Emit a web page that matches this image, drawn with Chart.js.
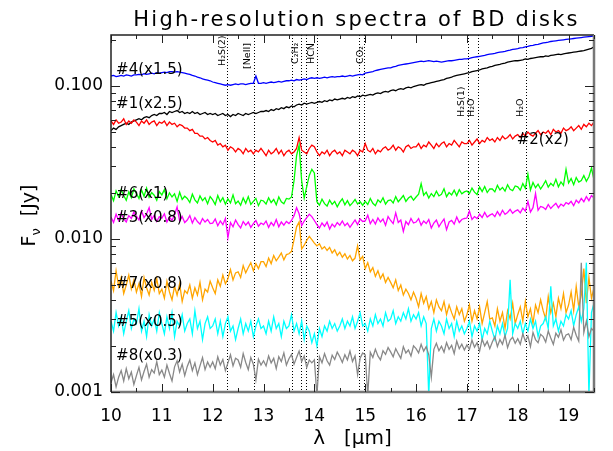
<!DOCTYPE html>
<html><head><meta charset="utf-8">
<script src="https://cdn.jsdelivr.net/npm/chart.js@4.4.1/dist/chart.umd.min.js"></script>
<style>html,body{margin:0;padding:0;background:#fff;overflow:hidden}#wrap{width:613px;height:451px;}</style>
</head><body><div id="wrap"><canvas id="c" width="613" height="451"></canvas></div>
<script>
// Wavelength grid (micron)
const wavelength = [10,10.05,10.1,10.15,10.2,10.25,10.3,10.35,10.4,10.45,10.5,10.55,10.6,10.65,10.7,10.75,10.8,10.85,10.9,10.95,
11,11.05,11.1,11.15,11.2,11.25,11.3,11.35,11.4,11.45,11.5,11.55,11.6,11.65,11.7,11.75,11.8,11.85,11.9,11.95,
12,12.05,12.1,12.15,12.2,12.25,12.3,12.35,12.4,12.45,12.5,12.55,12.6,12.65,12.7,12.75,12.8,12.85,12.9,12.95,
13,13.05,13.1,13.15,13.2,13.25,13.3,13.35,13.4,13.45,13.5,13.55,13.6,13.65,13.7,13.75,13.8,13.85,13.9,13.95,
14,14.05,14.1,14.15,14.2,14.25,14.3,14.35,14.4,14.45,14.5,14.55,14.6,14.65,14.7,14.75,14.8,14.85,14.9,14.95,
15,15.05,15.1,15.15,15.2,15.25,15.3,15.35,15.4,15.45,15.5,15.55,15.6,15.65,15.7,15.75,15.8,15.85,15.9,15.95,
16,16.05,16.1,16.15,16.2,16.25,16.3,16.35,16.4,16.45,16.5,16.55,16.6,16.65,16.7,16.75,16.8,16.85,16.9,16.95,
17,17.05,17.1,17.15,17.2,17.25,17.3,17.35,17.4,17.45,17.5,17.55,17.6,17.65,17.7,17.75,17.8,17.85,17.9,17.95,
18,18.05,18.1,18.15,18.2,18.25,18.3,18.35,18.4,18.45,18.5,18.55,18.6,18.65,18.7,18.75,18.8,18.85,18.9,18.95,
19,19.05,19.1,19.15,19.2,19.25,19.3,19.35,19.4,19.45,19.5];

// Scaled fluxes in mJy
const s4_mJy = [116,117,115,116,117,116,118,117,116,118,118,119,118,120,119,120,121,120,122,121,
122,123,122,124,124,123,124,123,122,121,120,119,117,116,114,113,111,110,109,108,
106,105,104,103,102,101,102,101,102,103,102,103,103,102,103,104,104,116,104,104,
105,104,105,106,105,106,107,106,107,108,108,109,108,110,109,110,111,110,112,113,
112,113,112,113,114,113,114,115,114,115,115,116,115,116,117,116,117,118,119,118,
121,122,123,124,126,127,128,129,130,131,131,133,134,136,137,138,139,140,141,142,
143,144,145,144,145,146,145,144,145,144,143,144,145,146,146,147,148,149,149,150,
150,151,153,154,155,156,157,158,160,161,162,163,165,166,167,168,170,171,173,174,
175,177,178,180,181,183,184,186,187,189,191,192,193,195,196,197,198,199,200,201,
202,203,204,205,206,207,208,209,210,211,212];
const s1_mJy = [51,53,52,54,55,56,57,56,58,59,60,61,60,62,63,62,64,65,64,66,
66,67,65,68,67,68,69,67,68,66,67,66,68,66,67,65,66,67,65,66,
65,66,64,65,66,64,65,63,65,64,66,65,64,66,65,66,67,66,67,68,
68,69,68,70,69,71,70,72,71,73,72,74,73,75,76,75,77,76,77,78,
77,78,79,78,80,79,81,80,82,81,82,83,82,84,83,85,84,86,85,87,
86,87,88,87,89,90,89,91,92,91,93,94,93,95,96,95,97,98,97,99,
100,101,102,101,103,104,105,106,107,108,109,110,112,113,114,116,117,118,119,120,
121,122,124,125,126,127,129,130,131,133,134,136,137,138,140,141,143,144,145,146,
146,147,148,150,149,151,152,153,154,155,155,157,156,158,159,160,161,160,162,163,
164,165,166,167,168,169,170,172,174,176,180];
const s2_mJy = [59,56,60,57,58,61,56,59,57,60,58,55,59,57,60,56,58,59,55,58,
57,59,55,58,56,57,54,56,55,53,53,51,52,49,49,47,47,45,46,44,
43,44,41,42,40,41,38,40,39,37,39,38,36,39,37,38,36,38,37,39,
37,35,38,36,37,39,36,38,35,37,38,36,37,39,46,38,37,36,39,41,
40,37,35,37,36,38,35,37,38,36,37,35,38,37,36,38,37,35,38,37,
42,38,37,39,36,38,37,39,40,38,39,41,38,40,39,37,40,41,39,40,
40,42,39,41,40,43,41,39,42,40,42,43,40,42,41,44,42,40,43,42,
42,44,41,43,45,42,44,43,46,44,45,43,46,44,47,45,46,48,45,47,
48,46,49,47,50,48,47,49,51,48,50,49,51,48,52,50,51,49,53,51,
52,54,51,53,55,52,56,54,57,55,58];
const s6_mJy = [19.5,17.8,20.6,18.9,21.0,19.2,17.9,20.3,18.6,21.2,19.8,18.4,20.9,19.0,21.5,18.7,20.1,19.3,17.9,20.4,
19.4,21.0,18.3,20.0,18.8,19.7,17.6,20.2,18.1,19.0,18.4,17.3,19.6,18.0,17.2,19.1,17.8,18.6,17.0,18.9,
18.0,16.8,19.2,17.5,18.6,16.9,18.3,17.2,19.4,17.0,17.7,16.6,18.5,17.1,18.9,16.8,17.6,18.4,16.5,17.9,
17.7,16.9,18.6,17.3,18.1,16.7,18.8,17.5,17.0,18.4,18.2,18.8,24,35,41,24,18.5,22,26,28.5,
27,17.5,16.6,18.2,17.0,16.4,17.9,16.8,17.6,16.2,17.4,18.3,16.7,17.8,16.5,17.2,18.1,16.9,17.5,16.6,
17.6,16.8,18.4,17.1,16.5,18.0,17.3,18.6,16.9,17.8,18.0,17.2,18.9,17.5,18.3,19.2,17.6,18.5,19.0,17.9,
18.8,19.6,23.0,19.3,20.2,18.5,19.8,18.9,20.5,19.1,19.6,21.3,18.9,20.1,19.4,20.8,19.2,21.0,19.7,20.3,
20.6,19.8,21.5,20.2,19.5,21.8,20.4,22.0,20.1,21.2,21.2,20.3,22.4,20.9,21.7,20.5,22.6,21.1,20.7,22.2,
21.9,20.8,23.0,21.4,26.5,20.9,23.4,21.6,22.8,21.2,22.5,24.0,21.8,23.1,22.2,24.5,21.9,23.6,22.4,28.5,
23.2,24.8,22.6,25.2,23.5,24.1,26.0,23.8,25.5,29.0,24.3];
const s3_mJy = [13.9,12.8,14.5,13.2,14.8,13.5,12.9,14.2,13.6,15.0,14.1,13.3,15.2,13.8,14.6,16.0,13.4,14.3,13.0,14.0,
13.7,14.6,12.9,13.9,13.2,14.4,16.2,13.1,14.0,12.8,13.3,14.2,12.7,13.8,13.0,12.5,13.6,12.9,13.4,12.6,
12.7,13.5,12.2,13.1,12.4,13.6,10.2,12.8,12.0,13.3,12.4,11.8,13.0,12.3,12.9,11.9,12.6,13.2,12.1,12.7,
12.4,13.1,11.9,12.8,12.2,13.4,12.0,12.9,12.3,13.0,12.6,13.2,14.2,16.0,14.6,12.2,13.1,13.8,14.5,14.0,
13.2,12.4,11.8,12.7,12.1,12.9,11.6,12.5,12.0,12.8,12.3,13.1,12.2,12.7,11.9,12.6,13.3,12.4,13.5,13.0,
13.1,14.3,12.6,13.4,12.5,13.7,12.9,13.5,12.3,14.0,13.2,12.6,14.8,12.8,13.3,11.2,13.0,12.4,13.6,12.7,
12.9,13.6,12.3,13.1,12.6,13.4,11.8,12.7,13.3,12.0,12.8,13.5,11.5,12.9,13.2,12.5,13.9,12.8,13.4,13.6,
13.7,15.2,13.4,14.0,13.6,14.5,13.8,14.9,13.9,14.3,14.6,14.0,15.1,14.2,15.4,14.5,14.9,15.6,14.7,15.2,
15.5,14.8,15.9,15.2,17.6,15.0,16.0,19.8,15.4,16.3,16.1,15.6,16.8,15.8,16.5,17.1,16.0,16.9,16.4,17.3,
16.9,17.6,16.5,17.9,17.2,18.4,17.5,18.9,17.8,19.2,18.5];
const s7_mJy = [5.3,4.6,6.2,4.9,5.6,4.4,5.0,5.8,4.7,5.4,4.5,5.1,4.2,5.6,4.8,4.3,5.2,4.6,5.5,4.4,
4.7,4.1,5.3,4.5,4.0,4.9,4.3,5.1,3.9,4.6,4.4,5.0,4.1,4.8,4.3,5.2,4.0,4.7,4.5,5.3,
4.8,4.4,5.4,4.9,5.8,5.1,5.5,6.3,5.4,6.0,6.1,5.6,6.7,6.0,6.5,7.0,6.2,6.9,6.4,7.1,
7.1,6.6,7.5,6.9,7.8,7.2,7.6,8.1,7.3,7.9,8.0,8.3,9.9,12.0,12.9,8.6,9.1,9.8,10.4,9.9,
9.4,9.0,9.3,8.6,8.9,8.4,8.8,8.1,8.5,7.8,8.2,7.6,8.0,7.4,7.8,7.2,7.5,9.0,7.3,7.7,
6.4,7.0,6.1,6.5,5.7,6.2,5.5,5.9,5.2,5.6,5.2,4.8,5.4,4.6,5.0,4.3,4.7,4.4,4.0,4.5,
4.1,3.6,4.4,3.8,4.2,3.5,3.9,3.3,4.0,3.6,3.4,3.9,3.2,3.7,3.3,3.0,3.6,3.2,3.5,2.9,
3.2,3.7,2.9,3.4,3.0,3.6,2.8,3.3,3.9,3.0,3.05,2.7,3.5,2.9,3.3,2.6,3.4,3.0,3.8,2.8,
3.2,3.6,2.9,3.9,3.1,3.5,2.8,3.7,3.3,4.0,3.4,3.0,4.2,3.3,3.8,3.1,4.1,3.5,4.4,3.3,
3.7,4.5,3.4,4.9,3.6,4.3,6.4,3.8,5.6,4.1,4.8];
const s5_mJy = [2.9,2.5,3.3,2.7,3.1,2.4,2.9,3.4,2.6,3.0,2.8,3.5,2.5,2.9,2.3,3.2,2.7,3.0,2.5,3.3,
2.8,2.4,3.1,2.6,3.3,2.3,2.9,2.7,3.2,2.5,2.8,3.0,2.4,3.4,2.6,2.9,2.2,2.8,3.1,2.6,
2.7,3.0,2.4,2.9,2.3,2.8,3.1,2.5,2.7,2.2,2.6,3.0,2.4,2.8,2.5,2.9,2.3,2.7,3.0,2.6,
2.7,2.4,2.9,2.5,3.1,2.6,2.8,2.3,2.9,2.6,2.7,3.2,2.5,2.8,2.4,2.9,2.2,2.7,2.5,2.1,
2.4,2.0,2.6,2.3,2.7,2.5,2.9,2.6,2.8,2.5,2.7,3.0,2.6,2.9,2.7,3.1,2.6,2.9,3.3,2.7,
2.8,2.5,3.0,2.7,3.2,2.8,3.0,2.7,3.3,2.9,3.0,3.4,2.8,3.1,2.9,3.3,3.0,3.5,2.9,3.2,
3.0,3.3,2.7,3.1,2.8,0.95,2.6,3.0,2.5,2.9,2.7,2.4,3.0,2.6,2.8,2.3,2.9,2.5,2.7,2.4,
2.6,2.9,2.3,2.7,2.5,2.8,2.2,2.6,2.4,2.9,2.5,2.2,2.7,2.4,2.8,2.3,2.6,5.4,2.4,2.8,
2.6,2.9,2.4,2.8,2.5,3.0,2.6,2.9,2.3,2.7,2.8,3.1,2.6,4.9,2.7,3.0,2.5,2.9,2.7,3.2,
3.0,3.4,2.7,3.2,3.6,2.9,3.5,7.0,0.95,3.3,3.8];
const s8_mJy = [1.15,1.30,1.08,1.25,1.38,1.18,1.42,1.22,1.35,1.12,1.28,1.45,1.20,1.36,1.52,1.25,1.40,1.33,1.58,1.30,
1.39,1.25,1.50,1.32,1.18,1.46,1.60,1.35,1.52,1.28,1.47,1.62,1.38,1.55,1.30,1.48,1.68,1.40,1.57,1.45,
1.57,1.42,1.70,1.50,1.63,1.38,1.55,1.75,1.48,1.66,1.62,1.45,1.78,1.56,1.40,1.68,1.52,1.20,1.64,1.50,
1.60,1.48,1.72,1.55,1.66,1.42,1.70,1.58,1.80,1.50,1.65,1.76,1.52,1.68,1.85,1.58,1.72,1.45,1.62,1.55,
1.62,0.95,1.70,1.55,1.78,1.60,1.50,1.74,1.63,1.82,1.70,1.56,1.75,1.62,1.85,1.58,1.72,1.30,1.66,1.80,
1.75,0.95,1.82,1.68,1.90,1.72,1.62,1.86,1.76,1.95,1.83,1.70,1.92,1.78,1.66,1.98,1.80,1.88,1.72,2.00,
1.92,1.80,2.05,1.85,1.98,1.75,1.25,1.90,2.08,1.86,1.99,1.82,2.10,1.90,2.02,1.78,2.15,1.92,2.05,1.88,
2.03,1.90,2.18,1.96,2.10,1.85,2.22,2.00,2.14,1.92,2.12,2.30,1.98,2.20,2.05,2.35,1.95,2.18,2.28,2.08,
2.23,2.05,2.40,2.15,2.32,1.98,2.45,2.20,2.10,2.38,2.30,2.12,2.50,2.25,2.05,2.42,2.28,2.55,2.18,2.36,
2.40,2.20,2.65,2.35,2.15,7.00,2.45,2.90,2.30,2.60,2.50];

const seriesNames = ['#4(x1.5)','#1(x2.5)','#2(x2)','#6(x1)','#3(x0.8)','#7(x0.8)','#5(x0.5)','#8(x0.3)'];
const seriesValues = [s4_mJy, s1_mJy, s2_mJy, s6_mJy, s3_mJy, s7_mJy, s5_mJy, s8_mJy];

// Axis ticks
const xTickValues = [10,11,12,13,14,15,16,17,18,19];
const yTickValues = [0.001,0.01,0.1];
const yTickLabels = ['0.001','0.010','0.100'];

// Texts
const chartTitle = 'High-resolution spectra of BD disks';
const xTitle = '\u03bb   [\u03bcm]';

// Spectral features
const featureLines = [12.28,12.81,13.56,13.74,13.84,14.05,14.88,14.98,17.03,17.22,18.16];
const featureNames = ['H\u2082S(2)','[NeII]','C\u2082H\u2082','HCN','CO\u2082','H\u2082S(1)','H\u2082O','H\u2082O'];
const featureNameAt = [12.28,12.81,13.74,14.05,14.98,17.03,17.22,18.16];

// ---- styling / layout (not data) ----
const FONT = "'DejaVu Sans', 'Liberation Sans', sans-serif";
const colors = ['#0000ff','#000000','#ff0000','#00ff00','#ff00ff','#ffa500','#00ffff','#888888'];
const labelAnchors = [ // [x in micron, y in Jy]
  [10.1,0.1272],[10.1,0.0763],[17.98,0.0444],[10.1,0.0197],[10.1,0.0137],[10.1,0.00508],[10.1,0.00287],[10.1,0.00172]];
const featureOffsets = [[-2,66],[-3.5,69],[-3,64],[-2.5,64],[-1,64],[-4,117],[-4,117],[-2.5,117]];

const datasets = seriesValues.map((vals, k) => ({
  label: seriesNames[k],
  data: wavelength.map((w, i) => ({x: w, y: vals[i] / 1000})),
  borderColor: colors[k],
  borderWidth: 1.3,
  pointRadius: 0,
  tension: 0,
  fill: false,
  order: 8 - k
}));

const marks = {
  id: 'marks',
  beforeDatasetsDraw(chart) {
    const {ctx, chartArea: a, scales: {x}} = chart;
    ctx.save();
    ctx.strokeStyle = '#000'; ctx.lineWidth = 1; ctx.setLineDash([1, 2]);
    featureLines.forEach(v => {
      const px = Math.round(x.getPixelForValue(v)) + 0.5;
      ctx.beginPath(); ctx.moveTo(px, a.top); ctx.lineTo(px, a.bottom); ctx.stroke();
    });
    ctx.restore();
  },
  afterDraw(chart) {
    const {ctx, chartArea: a, scales: {x, y}} = chart;
    ctx.save();
    // frame
    ctx.lineWidth = 1.5; ctx.strokeStyle = '#222';
    ctx.beginPath(); ctx.moveTo(a.left, a.bottom); ctx.lineTo(a.left, a.top); ctx.lineTo(a.right, a.top); ctx.stroke();
    ctx.lineWidth = 2.5; ctx.strokeStyle = '#777';
    ctx.beginPath(); ctx.moveTo(a.left, a.bottom); ctx.lineTo(a.right, a.bottom); ctx.lineTo(a.right, a.top); ctx.stroke();
    // x tick marks (inside)
    ctx.lineWidth = 1; ctx.strokeStyle = '#222';
    for (let v = 10; v <= 19.5001; v += 0.5) {
      const px = Math.round(x.getPixelForValue(v)) + 0.5;
      const len = Math.abs(v - Math.round(v)) < 1e-6 ? 8 : 4;
      ctx.beginPath(); ctx.moveTo(px, a.bottom); ctx.lineTo(px, a.bottom - len); ctx.stroke();
      ctx.beginPath(); ctx.moveTo(px, a.top); ctx.lineTo(px, a.top + len); ctx.stroke();
    }
    // y tick marks
    for (let e = -3; e <= -1; e++) {
      for (let m = 1; m <= 9; m++) {
        const v = m * Math.pow(10, e);
        if (v > y.max) continue;
        const py = Math.round(y.getPixelForValue(v)) + 0.5;
        const len = m === 1 ? 9 : 5;
        ctx.beginPath(); ctx.moveTo(a.left, py); ctx.lineTo(a.left + len, py); ctx.stroke();
        ctx.beginPath(); ctx.moveTo(a.right, py); ctx.lineTo(a.right - len, py); ctx.stroke();
      }
    }
    ctx.fillStyle = '#000';
    // title
    ctx.font = '21px ' + FONT; ctx.textAlign = 'center'; ctx.textBaseline = 'alphabetic';
    ctx.letterSpacing = '2.2px';
    ctx.fillText(chartTitle, 356.5, 26);
    ctx.letterSpacing = '0px';
    // feature labels (rotated)
    ctx.font = '9.5px ' + FONT; ctx.textAlign = 'left';
    featureNames.forEach((t, i) => {
      const px = x.getPixelForValue(featureNameAt[i]) + featureOffsets[i][0];
      ctx.save(); ctx.translate(px, featureOffsets[i][1]); ctx.rotate(-Math.PI / 2); ctx.fillText(t, 0, 0); ctx.restore();
    });
    // series labels
    ctx.font = '15px ' + FONT; ctx.textBaseline = 'middle';
    seriesNames.forEach((t, k) => {
      ctx.fillText(t, x.getPixelForValue(labelAnchors[k][0]), y.getPixelForValue(labelAnchors[k][1]));
    });
    // y axis title  F_nu [Jy]
    ctx.save();
    ctx.translate(35, (a.top + a.bottom) / 2 + 2);
    ctx.rotate(-Math.PI / 2);
    ctx.textBaseline = 'alphabetic';
    const f1 = '19px ' + FONT, f2 = '13px ' + FONT;
    ctx.font = f1; const wF = ctx.measureText('F').width; const wRest = ctx.measureText('  [Jy]').width;
    ctx.font = f2; const wNu = ctx.measureText('\u03bd').width;
    let sx = -(wF + wNu + wRest) / 2;
    ctx.font = f1; ctx.fillText('F', sx, 0); sx += wF;
    ctx.font = f2; ctx.fillText('\u03bd', sx, 5); sx += wNu;
    ctx.font = f1; ctx.fillText('  [Jy]', sx, 0);
    ctx.restore();
    // x axis title
    ctx.font = '20px ' + FONT; ctx.textAlign = 'center'; ctx.textBaseline = 'alphabetic';
    ctx.fillText(xTitle, (a.left + a.right) / 2, 444);
    ctx.restore();
  }
};

new Chart(document.getElementById('c'), {
  type: 'line',
  data: {datasets},
  options: {
    responsive: false, animation: false, devicePixelRatio: 1,
    layout: {padding: {left: 0, right: 19, top: 35, bottom: 0}},
    plugins: {legend: {display: false}, tooltip: {enabled: false}, title: {display: false}},
    scales: {
      x: {type: 'linear', min: 10, max: 19.5,
        afterBuildTicks: s => { s.ticks = xTickValues.map(v => ({value: v})); },
        afterFit: s => { s.height = 59; },
        grid: {display: false, drawTicks: false}, border: {display: false},
        ticks: {color: '#000', font: {family: FONT, size: 17}, padding: 14, maxRotation: 0, autoSkip: false,
          callback: v => String(v)}},
      y: {type: 'logarithmic', min: 0.001, max: 0.215,
        afterBuildTicks: s => { s.ticks = yTickValues.map(v => ({value: v})); },
        afterFit: s => { s.width = 111; },
        grid: {display: false, drawTicks: false}, border: {display: false},
        ticks: {color: '#000', font: {family: FONT, size: 17}, padding: 8, autoSkip: false,
          callback: v => yTickLabels[yTickValues.indexOf(v)] ?? ''}}
    }
  },
  plugins: [marks]
});
</script></body></html>
